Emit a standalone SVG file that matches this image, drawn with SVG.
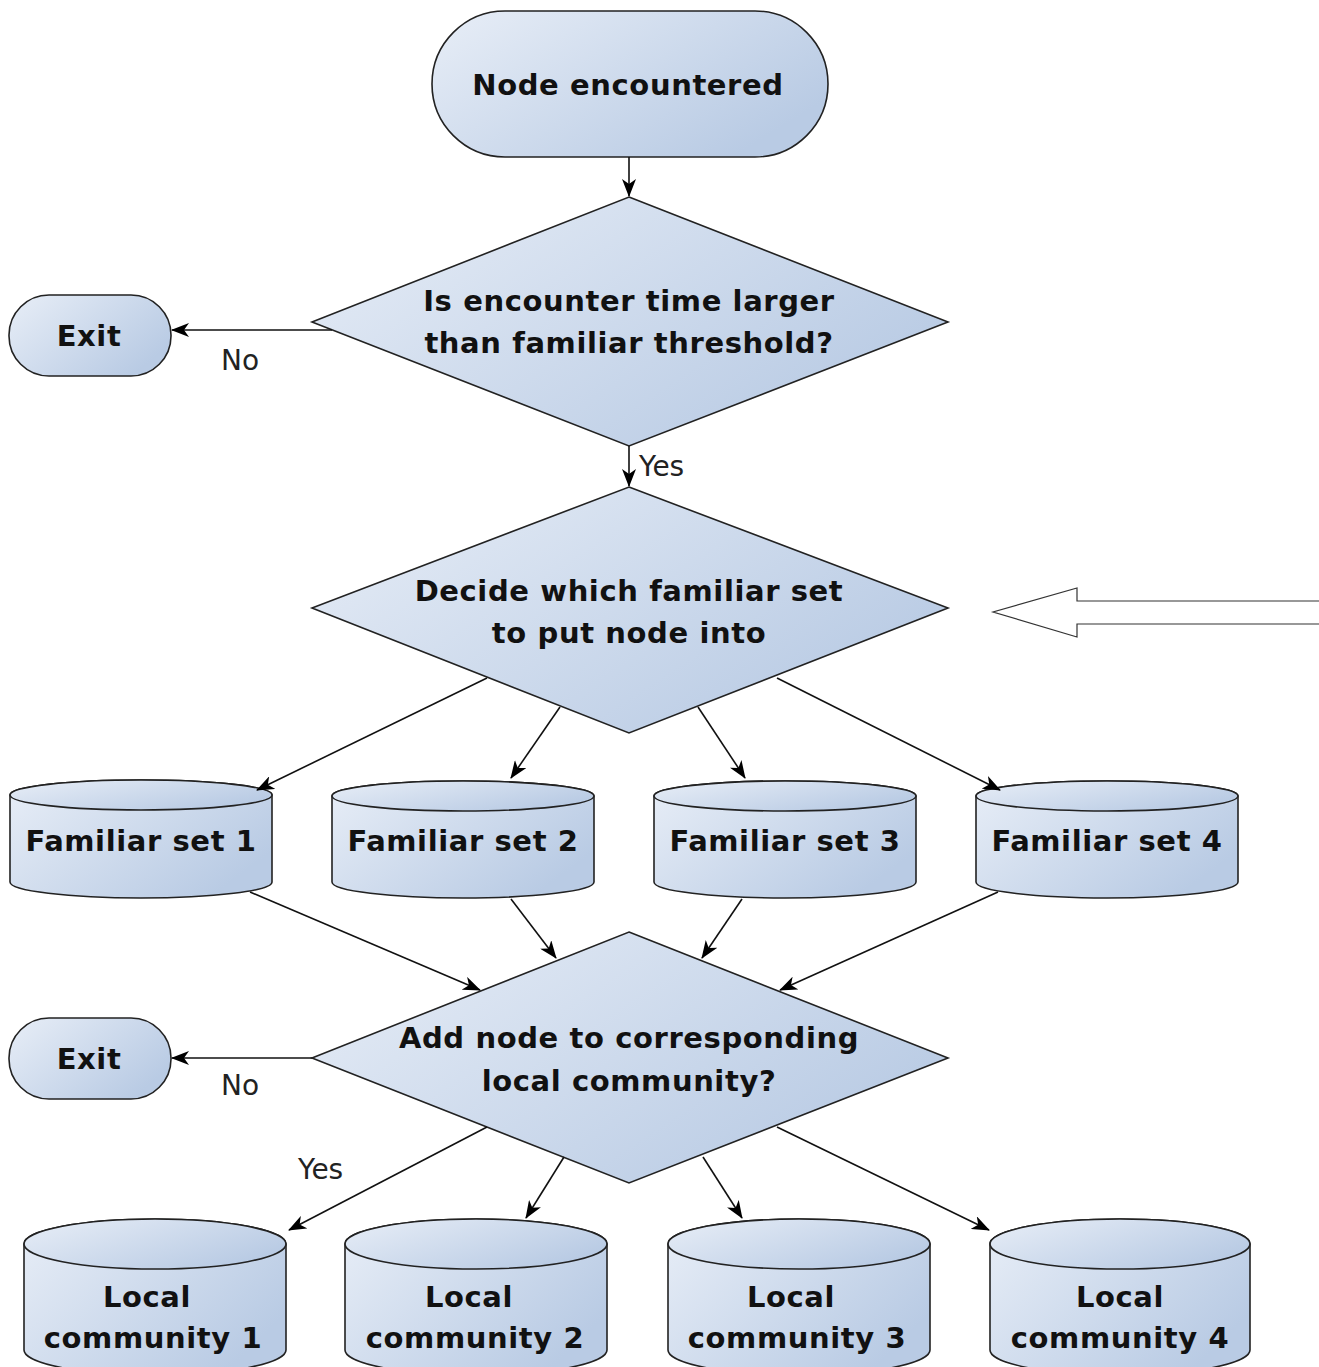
<svg xmlns="http://www.w3.org/2000/svg" width="1319" height="1367" viewBox="0 0 1319 1367">
<defs>
<linearGradient id="g" x1="0" y1="0" x2="1" y2="0.6">
<stop offset="0" stop-color="#e8eef7"/>
<stop offset="1" stop-color="#b9cbe4"/>
</linearGradient>
<marker id="ah" viewBox="0 0 18 14" refX="17" refY="7" markerWidth="18" markerHeight="14" markerUnits="userSpaceOnUse" orient="auto">
<path d="M0,0 L18,7 L0,14 L5,7 Z" fill="#000"/>
</marker>
<style>
.shape{fill:url(#g);stroke:#222;stroke-width:1.6}
.t{font-family:"DejaVu Sans",sans-serif;font-weight:bold;font-size:29px;letter-spacing:0.6px;fill:#111;text-anchor:middle}
.lbl{font-family:"DejaVu Sans",sans-serif;font-size:28px;fill:#222}
.c line{stroke:#111;stroke-width:1.6;marker-end:url(#ah)}
</style>
</defs>
<rect width="1319" height="1367" fill="#fff"/>

<g id="start">
<rect class="shape" x="432" y="11" width="396" height="146" rx="73" ry="73"/>
<text class="t" x="628" y="95">Node encountered</text>
</g>
<g id="decision1">
<polygon class="shape" points="629,197 948,322 629,446 312,322"/>
<text class="t" x="629" y="311">Is encounter time larger</text>
<text class="t" x="629" y="353">than familiar threshold?</text>
</g>
<g id="exit1">
<rect class="shape" x="9" y="295" width="162" height="81" rx="40" ry="40"/>
<text class="t" x="89" y="346">Exit</text>
</g>
<g id="decision2">
<polygon class="shape" points="629,487 948,608 629,733 312,608"/>
<text class="t" x="629" y="601">Decide which familiar set</text>
<text class="t" x="629" y="643">to put node into</text>
</g>
<g id="hollow-arrow">
<path d="M1319,601 H1077 V588 L993,612 L1077,637 V624 H1319" fill="#fff" stroke="#333" stroke-width="1.2"/>
</g>
<g id="fset1">
<path class="shape" d="M10,795 A131,15 0 0 1 272,795 V882 A131,16 0 0 1 10,882 Z"/>
<ellipse class="shape" cx="141" cy="795" rx="131" ry="15"/>
<text class="t" x="141" y="851">Familiar set 1</text>
</g>
<g id="fset2">
<path class="shape" d="M332,796 A131,15 0 0 1 594,796 V882 A131,16 0 0 1 332,882 Z"/>
<ellipse class="shape" cx="463" cy="796" rx="131" ry="15"/>
<text class="t" x="463" y="851">Familiar set 2</text>
</g>
<g id="fset3">
<path class="shape" d="M654,796 A131,15 0 0 1 916,796 V882 A131,16 0 0 1 654,882 Z"/>
<ellipse class="shape" cx="785" cy="796" rx="131" ry="15"/>
<text class="t" x="785" y="851">Familiar set 3</text>
</g>
<g id="fset4">
<path class="shape" d="M976,796 A131,15 0 0 1 1238,796 V882 A131,16 0 0 1 976,882 Z"/>
<ellipse class="shape" cx="1107" cy="796" rx="131" ry="15"/>
<text class="t" x="1107" y="851">Familiar set 4</text>
</g>
<g id="decision3">
<polygon class="shape" points="629,932 948,1058 629,1183 312,1058"/>
<text class="t" x="629" y="1048">Add node to corresponding</text>
<text class="t" x="629" y="1091">local community?</text>
</g>
<g id="exit2">
<rect class="shape" x="9" y="1018" width="162" height="81" rx="40" ry="40"/>
<text class="t" x="89" y="1069">Exit</text>
</g>
<g id="lc1">
<path class="shape" d="M24,1244 A131,25 0 0 1 286,1244 V1350 A131,25 0 0 1 24,1350 Z"/>
<ellipse class="shape" cx="155" cy="1244" rx="131" ry="25"/>
<text class="t" x="147" y="1307">Local</text>
<text class="t" x="153" y="1348">community 1</text>
</g>
<g id="lc2">
<path class="shape" d="M345,1244 A131,25 0 0 1 607,1244 V1350 A131,25 0 0 1 345,1350 Z"/>
<ellipse class="shape" cx="476" cy="1244" rx="131" ry="25"/>
<text class="t" x="469" y="1307">Local</text>
<text class="t" x="475" y="1348">community 2</text>
</g>
<g id="lc3">
<path class="shape" d="M668,1244 A131,25 0 0 1 930,1244 V1350 A131,25 0 0 1 668,1350 Z"/>
<ellipse class="shape" cx="799" cy="1244" rx="131" ry="25"/>
<text class="t" x="791" y="1307">Local</text>
<text class="t" x="797" y="1348">community 3</text>
</g>
<g id="lc4">
<path class="shape" d="M990,1244 A130,25 0 0 1 1250,1244 V1350 A130,25 0 0 1 990,1350 Z"/>
<ellipse class="shape" cx="1120" cy="1244" rx="130" ry="25"/>
<text class="t" x="1120" y="1307">Local</text>
<text class="t" x="1120" y="1348">community 4</text>
</g>

<g id="connectors" class="c">
<line x1="629" y1="157" x2="629" y2="196"/>
<line x1="332" y1="330" x2="172" y2="330"/>
<line x1="629" y1="446" x2="629" y2="486"/>
<line x1="487" y1="678" x2="257" y2="790"/>
<line x1="560" y1="707" x2="511" y2="778"/>
<line x1="698" y1="707" x2="745" y2="778"/>
<line x1="777" y1="678" x2="1000" y2="790"/>
<line x1="250" y1="892" x2="480" y2="990"/>
<line x1="511" y1="899" x2="556" y2="958"/>
<line x1="742" y1="899" x2="702" y2="958"/>
<line x1="998" y1="892" x2="780" y2="990"/>
<line x1="312" y1="1058" x2="172" y2="1058"/>
<line x1="487" y1="1127" x2="289" y2="1230"/>
<line x1="564" y1="1157" x2="526" y2="1218"/>
<line x1="703" y1="1157" x2="742" y2="1218"/>
<line x1="777" y1="1127" x2="989" y2="1230"/>
</g>
<g id="labels">
<text class="lbl" x="221" y="370">No</text>
<text class="lbl" x="639" y="476">Yes</text>
<text class="lbl" x="221" y="1095">No</text>
<text class="lbl" x="298" y="1179">Yes</text>
</g>
</svg>
